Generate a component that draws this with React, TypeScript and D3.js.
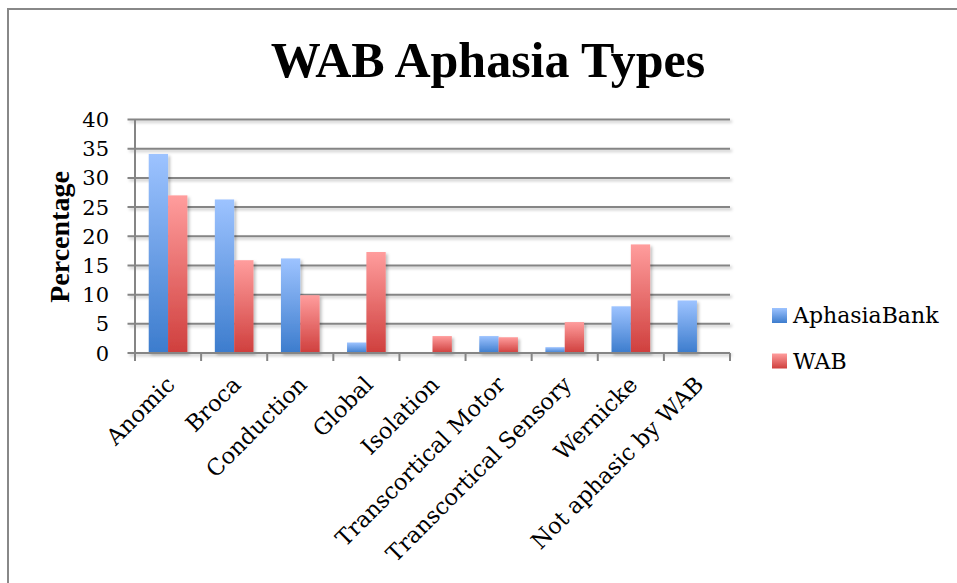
import React from "react";
import * as d3 from "d3";

const categories = [
  "Anomic",
  "Broca",
  "Conduction",
  "Global",
  "Isolation",
  "Transcortical Motor",
  "Transcortical Sensory",
  "Wernicke",
  "Not aphasic by WAB",
];
const seriesNames = ["AphasiaBank", "WAB"];
const aphasiaBank = [34.1, 26.3, 16.2, 1.8, 0, 2.9, 1.0, 8.0, 9.0];
const wab = [27.0, 15.9, 9.9, 17.3, 2.9, 2.7, 5.3, 18.6, 0];
const yTicks = [0, 5, 10, 15, 20, 25, 30, 35, 40];

const W = 957;
const H = 583;
const left = 135;
const right = 730;
const top = 119.5;
const bottom = 353;

const serif = "'DejaVu Serif', serif";
const timesLike = "'Liberation Serif', serif";

const App = () => {
  const x = d3.scaleBand<string>().domain(categories).range([left, right]);
  const xs = d3
    .scaleBand<string>()
    .domain(seriesNames)
    .range([0, x.bandwidth()])
    .paddingOuter(0.71);
  const y = d3.scaleLinear().domain([0, 40]).range([bottom, top]);
  const values = [aphasiaBank, wab];
  const fills = ["url(#gBlue)", "url(#gRed)"];
  const boundaries = categories.map((c) => x(c) as number).concat([right]);

  return (
    <svg
      width={W}
      height={H}
      style={{ position: "absolute", left: 0, top: 0, background: "#fff" }}
    >
      <defs>
        <linearGradient id="gBlue" x1="0" y1="0" x2="0" y2="1">
          <stop offset="0%" stopColor="#9dc3ff" />
          <stop offset="100%" stopColor="#3c7ccd" />
        </linearGradient>
        <linearGradient id="gRed" x1="0" y1="0" x2="0" y2="1">
          <stop offset="0%" stopColor="#ff9d9d" />
          <stop offset="100%" stopColor="#cf3f3d" />
        </linearGradient>
        <filter id="shadow" x="-20%" y="-20%" width="150%" height="150%">
          <feDropShadow dx="2" dy="2" stdDeviation="1.5" floodColor="#000" floodOpacity="0.25" />
        </filter>
      </defs>

      {/* chart border */}
      <rect x={8} y={9} width={1000} height={700} fill="none" stroke="#888" strokeWidth={2} />

      {/* title */}
      <text
        x={488}
        y={77}
        textAnchor="middle"
        fontFamily={timesLike}
        fontWeight="bold"
        fontSize={50}
        fill="#000"
      >
        WAB Aphasia Types
      </text>

      {/* gridlines */}
      <g filter="url(#shadow)">
        {yTicks.map((t) => (
          <line
            key={t}
            x1={left - 7.5}
            x2={right}
            y1={y(t)}
            y2={y(t)}
            stroke="#858585"
            strokeWidth={2}
          />
        ))}
      </g>

      {/* bars */}
      <g filter="url(#shadow)">
        {categories.map((c, i) =>
          seriesNames.map((s, j) =>
            values[j][i] > 0 ? (
              <rect
                key={c + s}
                x={(x(c) as number) + (xs(s) as number)}
                y={y(values[j][i])}
                width={xs.bandwidth()}
                height={bottom - y(values[j][i])}
                fill={fills[j]}
              />
            ) : null
          )
        )}
      </g>

      {/* axes */}
      <line x1={left} x2={left} y1={top} y2={bottom + 8} stroke="#858585" strokeWidth={2} />
      <line x1={left} x2={right} y1={bottom} y2={bottom} stroke="#858585" strokeWidth={2} />
      {boundaries.map((b, i) => (
        <line key={i} x1={b} x2={b} y1={bottom} y2={bottom + 8} stroke="#858585" strokeWidth={2} />
      ))}

      {/* y tick labels */}
      {yTicks.map((t) => (
        <text
          key={t}
          x={109}
          y={y(t)}
          dy="0.36em"
          textAnchor="end"
          fontFamily={serif}
          fontSize={21}
          fill="#000"
        >
          {t}
        </text>
      ))}

      {/* y title */}
      <text
        transform={`translate(69, 237) rotate(-90)`}
        textAnchor="middle"
        fontFamily={timesLike}
        fontWeight="bold"
        fontSize={28}
        fill="#000"
      >
        Percentage
      </text>

      {/* x labels */}
      {categories.map((c) => {
        const cx = (x(c) as number) + x.bandwidth() / 2;
        return (
          <text
            key={c}
            transform={`translate(${cx + 8}, 386) rotate(-45)`}
            textAnchor="end"
            fontFamily={serif}
            fontSize={22.5}
            fill="#000"
          >
            {c}
          </text>
        );
      })}

      {/* legend */}
      {seriesNames.map((s, j) => (
        <g key={s} transform={`translate(772, ${308 + j * 45.5})`}>
          <rect width={15} height={15} fill={fills[j]} />
          <text x={21} y={15} fontFamily={serif} fontSize={22} fill="#000">
            {s}
          </text>
        </g>
      ))}
    </svg>
  );
};

export default App;
